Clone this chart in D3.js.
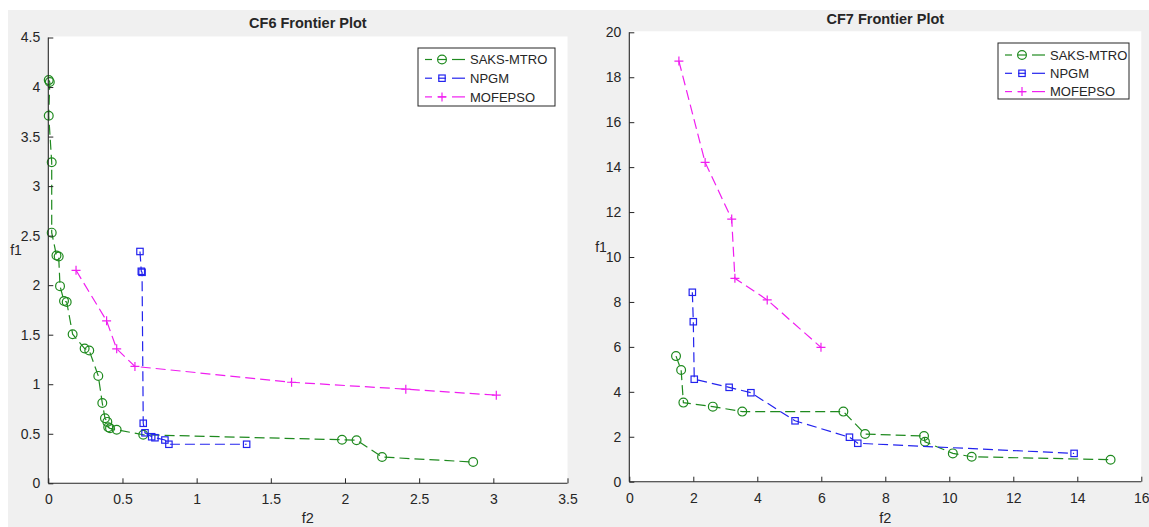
<!DOCTYPE html>
<html>
<head>
<meta charset="utf-8">
<script src="https://cdn.jsdelivr.net/npm/d3@7"></script>
<style>
  body { margin: 0; background: #ffffff; }
  svg { display: block; }
  text { font-family: Arial, "Liberation Sans", Helvetica, sans-serif; fill: #262626; }
</style>
</head>
<body>
<svg id="fig" width="1149" height="527"></svg>
<script>
// Series names (legend order)
const seriesNames = ["SAKS-MTRO", "NPGM", "MOFEPSO"];

// CF6 Pareto fronts, points as [f2, f1]
const cf6Saks = [
  [0.003, 4.07], [0.010, 4.05], [0.003, 3.71], [0.023, 3.24], [0.023, 2.53],
  [0.055, 2.30], [0.070, 2.29], [0.079, 1.99], [0.106, 1.84], [0.124, 1.83],
  [0.164, 1.505], [0.245, 1.36], [0.276, 1.34], [0.337, 1.084], [0.364, 0.81],
  [0.382, 0.657], [0.398, 0.62], [0.404, 0.565], [0.416, 0.555], [0.461, 0.54],
  [0.640, 0.49], [1.980, 0.44], [2.078, 0.435], [2.250, 0.265], [2.864, 0.215]
];
const cf6Npgm = [
  [0.618, 2.34], [0.627, 2.14], [0.632, 2.13], [0.640, 0.606], [0.652, 0.51],
  [0.697, 0.47], [0.719, 0.46], [0.786, 0.437], [0.813, 0.394], [1.337, 0.394]
];
const cf6Mofepso = [
  [0.187, 2.15], [0.393, 1.64], [0.461, 1.357], [0.584, 1.18],
  [1.640, 1.02], [2.410, 0.95], [3.020, 0.89]
];

// CF7 Pareto fronts, points as [f2, f1]
const cf7Saks = [
  [1.46, 5.59], [1.62, 4.97], [1.69, 3.52], [2.61, 3.34], [3.53, 3.12],
  [6.69, 3.12], [7.37, 2.12], [9.21, 2.03], [9.24, 1.78], [10.11, 1.26],
  [10.70, 1.11], [15.04, 0.98]
];
const cf7Npgm = [
  [1.97, 8.43], [2.00, 7.12], [2.03, 4.56], [3.12, 4.20], [3.80, 3.96],
  [5.18, 2.71], [6.88, 1.98], [7.14, 1.71], [13.90, 1.26]
];
const cf7Mofepso = [
  [1.55, 18.72], [2.37, 14.21], [3.20, 11.69], [3.30, 9.05], [4.31, 8.09], [5.99, 5.98]
];

// Axis tick values
const cf6XTicks = [0, 0.5, 1, 1.5, 2, 2.5, 3, 3.5];
const cf6YTicks = [0, 0.5, 1, 1.5, 2, 2.5, 3, 3.5, 4, 4.5];
const cf7XTicks = [0, 2, 4, 6, 8, 10, 12, 14, 16];
const cf7YTicks = [0, 2, 4, 6, 8, 10, 12, 14, 16, 18, 20];

const colors = ["#1f8a1f", "#2323ee", "#f01ef0"];
const markers = ["circle", "square", "plus"];

const svg = d3.select("#fig");

// figure background
svg.append("rect").attr("width", 1149).attr("height", 527).attr("fill", "#ffffff");
svg.append("rect").attr("x", 8).attr("y", 10).attr("width", 1141).attr("height", 517).attr("fill", "#f0f0f0");

function drawMarker(g, type, x, y, color) {
  if (type === "circle") {
    g.append("circle").attr("cx", x).attr("cy", y).attr("r", 4.4)
      .attr("fill", "none").attr("stroke", color).attr("stroke-width", 1.2);
  } else if (type === "square") {
    g.append("rect").attr("x", x - 3.2).attr("y", y - 3.2).attr("width", 6.4).attr("height", 6.4)
      .attr("fill", "none").attr("stroke", color).attr("stroke-width", 1.2);
  } else {
    g.append("path").attr("d", `M${x - 4.5},${y}H${x + 4.5}M${x},${y - 4.5}V${y + 4.5}`)
      .attr("fill", "none").attr("stroke", color).attr("stroke-width", 1.2);
  }
}

function drawPanel(p) {
  const x = d3.scaleLinear().domain(p.xDomain).range(p.xRange);
  const y = d3.scaleLinear().domain(p.yDomain).range(p.yRange);
  const g = svg.append("g");

  // white plotting area
  g.append("rect")
    .attr("x", x(p.xDomain[0])).attr("y", y(p.yDomain[1]) - 1)
    .attr("width", x(p.xDomain[1]) - x(p.xDomain[0]))
    .attr("height", y(p.yDomain[0]) - y(p.yDomain[1]) + 1)
    .attr("fill", "#ffffff");

  // series: dashed polylines with open markers
  p.series.forEach((pts, i) => {
    const line = d3.line().x(d => x(d[0])).y(d => y(d[1]));
    g.append("path").attr("d", line(pts))
      .attr("fill", "none").attr("stroke", colors[i]).attr("stroke-width", 1.2)
      .attr("stroke-dasharray", "10,5");
    const mg = g.append("g");
    pts.forEach(d => drawMarker(mg, markers[i], x(d[0]), y(d[1]), colors[i]));
  });

  // axes, ticks pointing inward
  const xAxis = d3.axisBottom(x).tickValues(p.xTicks).tickSize(-5).tickPadding(11)
    .tickFormat(d3.format("~g"));
  const yAxis = d3.axisLeft(y).tickValues(p.yTicks).tickSize(-5).tickPadding(8)
    .tickFormat(d3.format("~g"));

  const gx = g.append("g").attr("transform", `translate(0,${y(p.yDomain[0])})`).call(xAxis);
  const gy = g.append("g").attr("transform", `translate(${x(p.xDomain[0])},0)`).call(yAxis);
  [gx, gy].forEach(a => {
    a.select(".domain").attr("stroke", "#262626").attr("stroke-width", 1.1)
      .attr("d", a === gx
        ? `M${p.xRange[0]},0H${p.xRange[1]}`
        : `M0,${p.yRange[0]}V${p.yRange[1]}`);
    a.selectAll(".tick line").attr("stroke", "#262626").attr("stroke-width", 1);
    a.selectAll(".tick text").attr("font-size", 14).attr("fill", "#262626")
      .attr("font-family", "Arial, 'Liberation Sans', Helvetica, sans-serif");
  });

  // title and axis labels
  g.append("text").attr("x", (p.xRange[0] + p.xRange[1]) / 2).attr("y", p.titleY)
    .attr("text-anchor", "middle").attr("font-size", 14.5).attr("font-weight", "bold")
    .attr("fill", "#000").text(p.title);
  g.append("text").attr("x", (p.xRange[0] + p.xRange[1]) / 2).attr("y", 523)
    .attr("text-anchor", "middle").attr("font-size", 14.5).text("f2");
  g.append("text").attr("x", p.f1X).attr("y", p.f1Y)
    .attr("text-anchor", "middle").attr("font-size", 14).text("f1");

  // legend
  const L = p.legend;
  const lg = g.append("g");
  lg.append("rect").attr("x", L.x).attr("y", L.y).attr("width", L.w).attr("height", L.h)
    .attr("fill", "#ffffff").attr("stroke", "#262626").attr("stroke-width", 1);
  seriesNames.forEach((name, i) => {
    const cy = L.y + L.row0 + i * L.rowStep;
    const x0 = L.x + 7;
    [[0, 7], [13, 21], [27, 40]].forEach(([a, b]) => {
      lg.append("line").attr("x1", x0 + a).attr("x2", x0 + b).attr("y1", cy).attr("y2", cy)
        .attr("stroke", colors[i]).attr("stroke-width", 1.2);
    });
    drawMarker(lg, markers[i], x0 + 17, cy, colors[i]);
    lg.append("text").attr("x", x0 + 45).attr("y", cy).attr("dy", "0.36em")
      .attr("font-size", 13).attr("fill", "#000").text(name);
  });
}

drawPanel({
  title: "CF6 Frontier Plot",
  titleY: 28,
  xDomain: [0, 3.5], xRange: [48.3, 567.5],
  yDomain: [0, 4.5], yRange: [483.3, 37.5],
  xTicks: cf6XTicks, yTicks: cf6YTicks,
  series: [cf6Saks, cf6Npgm, cf6Mofepso],
  f1X: 16, f1Y: 255,
  legend: { x: 418, y: 48, w: 137, h: 58, row0: 11.5, rowStep: 18.7 }
});

drawPanel({
  title: "CF7 Frontier Plot",
  titleY: 24,
  xDomain: [0, 16], xRange: [629.3, 1141.3],
  yDomain: [0, 20], yRange: [481.7, 32.3],
  xTicks: cf7XTicks, yTicks: cf7YTicks,
  series: [cf7Saks, cf7Npgm, cf7Mofepso],
  f1X: 601, f1Y: 252,
  legend: { x: 998, y: 43, w: 131, h: 56, row0: 12, rowStep: 18.3 }
});
</script>
</body>
</html>
